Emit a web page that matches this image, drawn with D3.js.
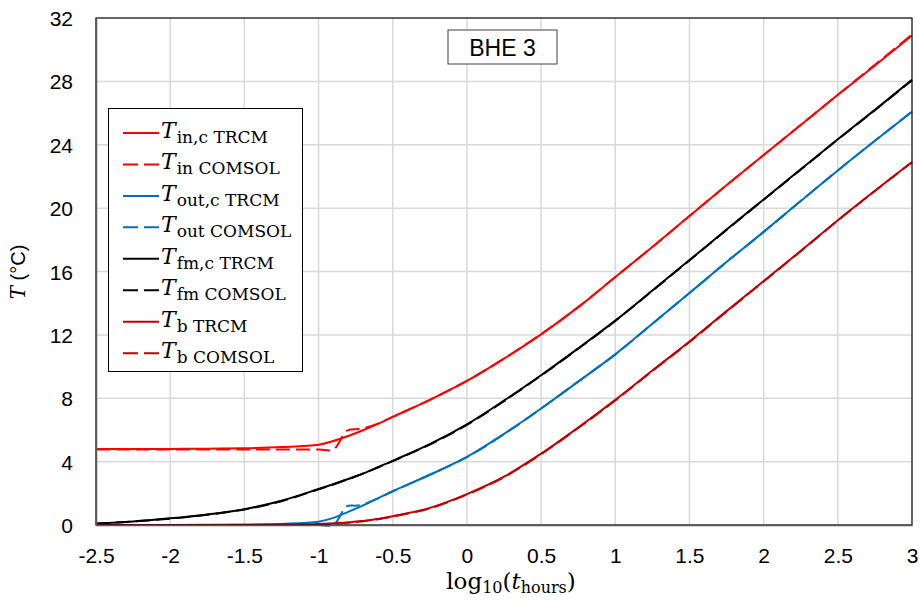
<!DOCTYPE html>
<html>
<head>
<meta charset="utf-8">
<script src="https://cdn.jsdelivr.net/npm/d3@7"></script>
<style>
  html, body { margin: 0; padding: 0; background: #fff; }
  svg { display: block; }
</style>
</head>
<body>
<svg id="chart" width="921" height="605"></svg>
<script>
// Temperatures (°C) against log10 of elapsed time in hours
const logTimeTRCM = [-2.5, -2.25, -2, -1.75, -1.5, -1.25, -1, -0.9, -0.8, -0.7, -0.6, -0.5, -0.25,
  0, 0.25, 0.5, 0.75, 1, 1.25, 1.5, 1.75, 2, 2.25, 2.5, 2.75, 3];
const tinTRCM  = [4.79, 4.79, 4.80, 4.82, 4.85, 4.92, 5.06, 5.3, 5.62, 5.98, 6.38, 6.82, 7.9,
  9.09, 10.5, 12.03, 13.75, 15.65, 17.55, 19.5, 21.45, 23.35, 25.25, 27.15, 29.0, 30.9];
const toutTRCM = [0, 0, 0, 0.01, 0.02, 0.07, 0.21, 0.45, 0.83, 1.24, 1.68, 2.13, 3.17,
  4.3, 5.75, 7.35, 9.05, 10.77, 12.7, 14.64, 16.6, 18.5, 20.45, 22.38, 24.25, 26.08];
const tfmTRCM  = [0.1, 0.22, 0.42, 0.67, 1.0, 1.53, 2.27, 2.58, 2.9, 3.25, 3.65, 4.05, 5.1,
  6.35, 7.85, 9.45, 11.15, 12.9, 14.8, 16.72, 18.65, 20.55, 22.45, 24.35, 26.2, 28.1];
const tbTRCM   = [0, 0, 0, 0, 0.01, 0.03, 0.07, 0.11, 0.16, 0.26, 0.38, 0.55, 1.08,
  1.95, 3.05, 4.5, 6.15, 7.9, 9.75, 11.58, 13.5, 15.4, 17.3, 19.24, 21.1, 22.91];

const logTimeCOMSOL = [-2.5, -2, -1.5, -1.25, -1, -0.9, -0.81, -0.75, -0.7, -0.6, -0.5, -0.25,
  0, 0.25, 0.5, 0.75, 1, 1.25, 1.5, 1.75, 2, 2.25, 2.5, 2.75, 3];
const tinCOMSOL  = [4.76, 4.76, 4.76, 4.76, 4.76, 4.77, 5.95, 6.05, 6.1, 6.4, 6.82, 7.9,
  9.1, 10.5, 12.05, 13.75, 15.65, 17.55, 19.5, 21.45, 23.35, 25.25, 27.15, 29.05, 30.95];
const toutCOMSOL = [0, 0, 0, 0, 0, 0.01, 1.18, 1.22, 1.3, 1.68, 2.13, 3.17,
  4.28, 5.73, 7.35, 9.05, 10.77, 12.7, 14.64, 16.6, 18.5, 20.45, 22.38, 24.25, 26.1];
const tfmCOMSOL  = [0.08, 0.4, 0.98, 1.5, 2.25, 2.56, 2.86, 3.07, 3.24, 3.63, 4.03, 5.08,
  6.32, 7.82, 9.43, 11.12, 12.88, 14.78, 16.7, 18.62, 20.53, 22.43, 24.33, 26.18, 28.08];
const tbCOMSOL   = [0, 0, 0, 0.02, 0.05, 0.09, 0.14, 0.18, 0.24, 0.36, 0.53, 1.05,
  1.92, 3.02, 4.47, 6.12, 7.86, 9.72, 11.55, 13.47, 15.37, 17.28, 19.22, 21.08, 22.9];

const xTicks = [-2.5, -2, -1.5, -1, -0.5, 0, 0.5, 1, 1.5, 2, 2.5, 3];
const yTicks = [0, 4, 8, 12, 16, 20, 24, 28, 32];

// Legend subscripts and colours, in series order (TRCM solid, COMSOL dashed)
const seriesNames = ["in,c TRCM", "in COMSOL", "out,c TRCM", "out COMSOL",
  "fm,c TRCM", "fm COMSOL", "b TRCM", "b COMSOL"];
const seriesColors = ["#ff0000", "#ff0000", "#0070c0", "#0070c0",
  "#000000", "#000000", "#c00000", "#c00000"];

const seriesData = [
  [logTimeTRCM, tinTRCM], [logTimeCOMSOL, tinCOMSOL],
  [logTimeTRCM, toutTRCM], [logTimeCOMSOL, toutCOMSOL],
  [logTimeTRCM, tfmTRCM], [logTimeCOMSOL, tfmCOMSOL],
  [logTimeTRCM, tbTRCM], [logTimeCOMSOL, tbCOMSOL]
];

const svg = d3.select("#chart");
const margin = {left: 96, right: 9, top: 18, bottom: 80};
const W = 921, H = 605;
const x = d3.scaleLinear().domain([-2.5, 3]).range([margin.left, W - margin.right]);
const y = d3.scaleLinear().domain([0, 32]).range([H - margin.bottom, margin.top]);

const sans = "Arial, 'Liberation Sans', sans-serif";
const serif = "'DejaVu Serif', 'Liberation Serif', serif";

// grid
const grid = svg.append("g");
grid.selectAll("line.v").data(xTicks.slice(1, -1)).join("line")
  .attr("x1", d => x(d)).attr("x2", d => x(d))
  .attr("y1", y(0)).attr("y2", y(32))
  .attr("stroke", "#d9d9d9").attr("stroke-width", 1.5);
grid.selectAll("line.h").data(yTicks.slice(1, -1)).join("line")
  .attr("x1", x(-2.5)).attr("x2", x(3))
  .attr("y1", d => y(d)).attr("y2", d => y(d))
  .attr("stroke", "#d9d9d9").attr("stroke-width", 1.5);

// series
const plot = svg.append("g");
seriesData.forEach(([xs, ys], i) => {
  const pts = xs.map((v, k) => [v, ys[k]]);
  const line = d3.line().x(d => x(d[0])).y(d => y(d[1])).curve(d3.curveCatmullRom.alpha(0.5));
  plot.append("path")
    .attr("d", line(pts))
    .attr("fill", "none")
    .attr("stroke", seriesColors[i])
    .attr("stroke-width", 2)
    .attr("stroke-dasharray", i % 2 ? "14,6" : null);
});

// frame and axes
svg.append("rect")
  .attr("x", x(-2.5)).attr("y", y(32))
  .attr("width", x(3) - x(-2.5)).attr("height", y(0) - y(32))
  .attr("fill", "none").attr("stroke", "#000").attr("stroke-width", 1.2);

const xAxis = svg.append("g").attr("transform", `translate(0,${y(0)})`)
  .call(d3.axisBottom(x).tickValues(xTicks).tickSize(0).tickPadding(0).tickFormat(d => String(d)));
xAxis.select(".domain").attr("stroke", "#595959").attr("stroke-width", 1.5);
xAxis.selectAll("text").attr("dy", null).attr("y", 38)
  .attr("font-family", sans).attr("font-size", 21).attr("fill", "#000");

const yAxis = svg.append("g").attr("transform", `translate(${x(-2.5)},0)`)
  .call(d3.axisLeft(y).tickValues(yTicks).tickSize(0).tickPadding(0).tickFormat(d => String(d)));
yAxis.select(".domain").attr("stroke", "#595959").attr("stroke-width", 1.5);
yAxis.selectAll("text").attr("x", -23).attr("dy", "0.36em")
  .attr("font-family", sans).attr("font-size", 21).attr("fill", "#000");

// axis titles
const yt = svg.append("text")
  .attr("transform", "translate(25,272) rotate(-90)")
  .attr("text-anchor", "middle").attr("font-size", 20).attr("fill", "#000");
yt.append("tspan").attr("font-family", serif).attr("font-style", "italic").text("T");
yt.append("tspan").attr("font-family", sans).text(" (°C)");

const xt = svg.append("text")
  .attr("x", 511).attr("y", 589)
  .attr("text-anchor", "middle").attr("font-family", serif).attr("font-size", 23).attr("fill", "#000");
xt.append("tspan").text("log");
xt.append("tspan").attr("font-size", 16).attr("dy", 4).text("10");
xt.append("tspan").attr("dy", -4).text("(");
xt.append("tspan").attr("font-style", "italic").text("t");
xt.append("tspan").attr("font-size", 16).attr("dy", 4).text("hours");
xt.append("tspan").attr("dy", -4).text(")");

// title box
svg.append("rect").attr("x", 448).attr("y", 30).attr("width", 109).attr("height", 34)
  .attr("fill", "#fff").attr("stroke", "#404040").attr("stroke-width", 1);
svg.append("text").attr("x", 502.5).attr("y", 55.5).attr("text-anchor", "middle")
  .attr("font-family", sans).attr("font-size", 23).attr("fill", "#000").text("BHE 3");

// legend
const lg = svg.append("g");
lg.append("rect").attr("x", 108.5).attr("y", 108.5).attr("width", 194).attr("height", 263)
  .attr("fill", "#fff").attr("stroke", "#000").attr("stroke-width", 1);
seriesNames.forEach((name, i) => {
  const cy = 133 + i * 31.45;
  lg.append("line").attr("x1", 123).attr("x2", 159).attr("y1", cy).attr("y2", cy)
    .attr("stroke", seriesColors[i]).attr("stroke-width", 2)
    .attr("stroke-dasharray", i % 2 ? "15,6" : null);
  const t = lg.append("text").attr("x", 161).attr("y", cy + 5)
    .attr("font-family", serif).attr("fill", "#000");
  t.append("tspan").attr("font-style", "italic").attr("font-size", 22).text("T");
  t.append("tspan").attr("font-size", 17).attr("dx", 1).attr("dy", 5).text(name);
});
</script>
</body>
</html>
